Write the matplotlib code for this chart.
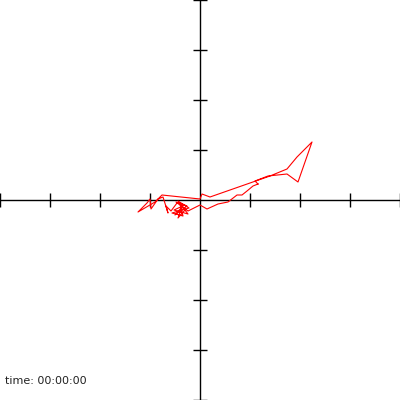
import matplotlib
matplotlib.use("Agg")
import matplotlib.pyplot as plt

# path (one tick = 1 unit)
xs = [1.16, 1.06, 0.94, 0.84, 0.74, 0.56, 0.36, 0.14, 0.00, -0.24,
      -0.48, -0.30, -0.52, -0.24, -0.44, -0.22, -0.56, -0.34, -0.40, -0.30,
      -0.44, -0.36, -0.50, -0.26, -0.46, -0.58, -0.68, -0.64, -0.74, -0.84,
      -0.98, -1.00, -1.06, -1.24, -0.90, -0.76, 0.00, 0.04, 0.20, 1.40,
      1.74, 1.94, 2.24, 1.96, 1.74, 1.36, 1.10, 1.16]
ys = [0.32, 0.28, 0.18, 0.10, 0.10, -0.04, -0.08, -0.18, -0.10, -0.22,
      -0.04, -0.10, -0.20, -0.28, -0.02, -0.16, -0.26, -0.32, -0.08, -0.20,
      -0.36, -0.14, -0.30, -0.12, -0.06, -0.22, -0.12, -0.26, 0.06, 0.02,
      -0.18, 0.02, -0.06, -0.24, -0.04, 0.10, 0.02, 0.12, 0.06, 0.48,
      0.62, 0.86, 1.16, 0.36, 0.52, 0.48, 0.38, 0.32]
ticks = [-4, -3, -2, -1, 0, 1, 2, 3, 4]
label = "time: 00:00:00"

fig = plt.figure(figsize=(4, 4), dpi=100)
ax = fig.add_axes([0, 0, 1, 1])
ax.set_xlim(-4, 4)
ax.set_ylim(-4, 4)

ax.plot(xs, ys, color="red", lw=0.8, zorder=3)

for side in ["top", "right"]:
    ax.spines[side].set_visible(False)
ax.spines["left"].set_position("zero")
ax.spines["bottom"].set_position("zero")
for side in ["left", "bottom"]:
    ax.spines[side].set_linewidth(1)
    ax.spines[side].set_color("black")

ax.set_xticks([t for t in ticks if t != 0])
ax.set_yticks([t for t in ticks if t != 0])
ax.tick_params(direction="inout", length=10, width=1, color="black",
               labelbottom=False, labelleft=False)
ax.patch.set_visible(False)

fig.text(0.0125, 0.0475, label, fontsize=8, color="#222222", va="center", ha="left")

fig.savefig("out.png", dpi=100)
